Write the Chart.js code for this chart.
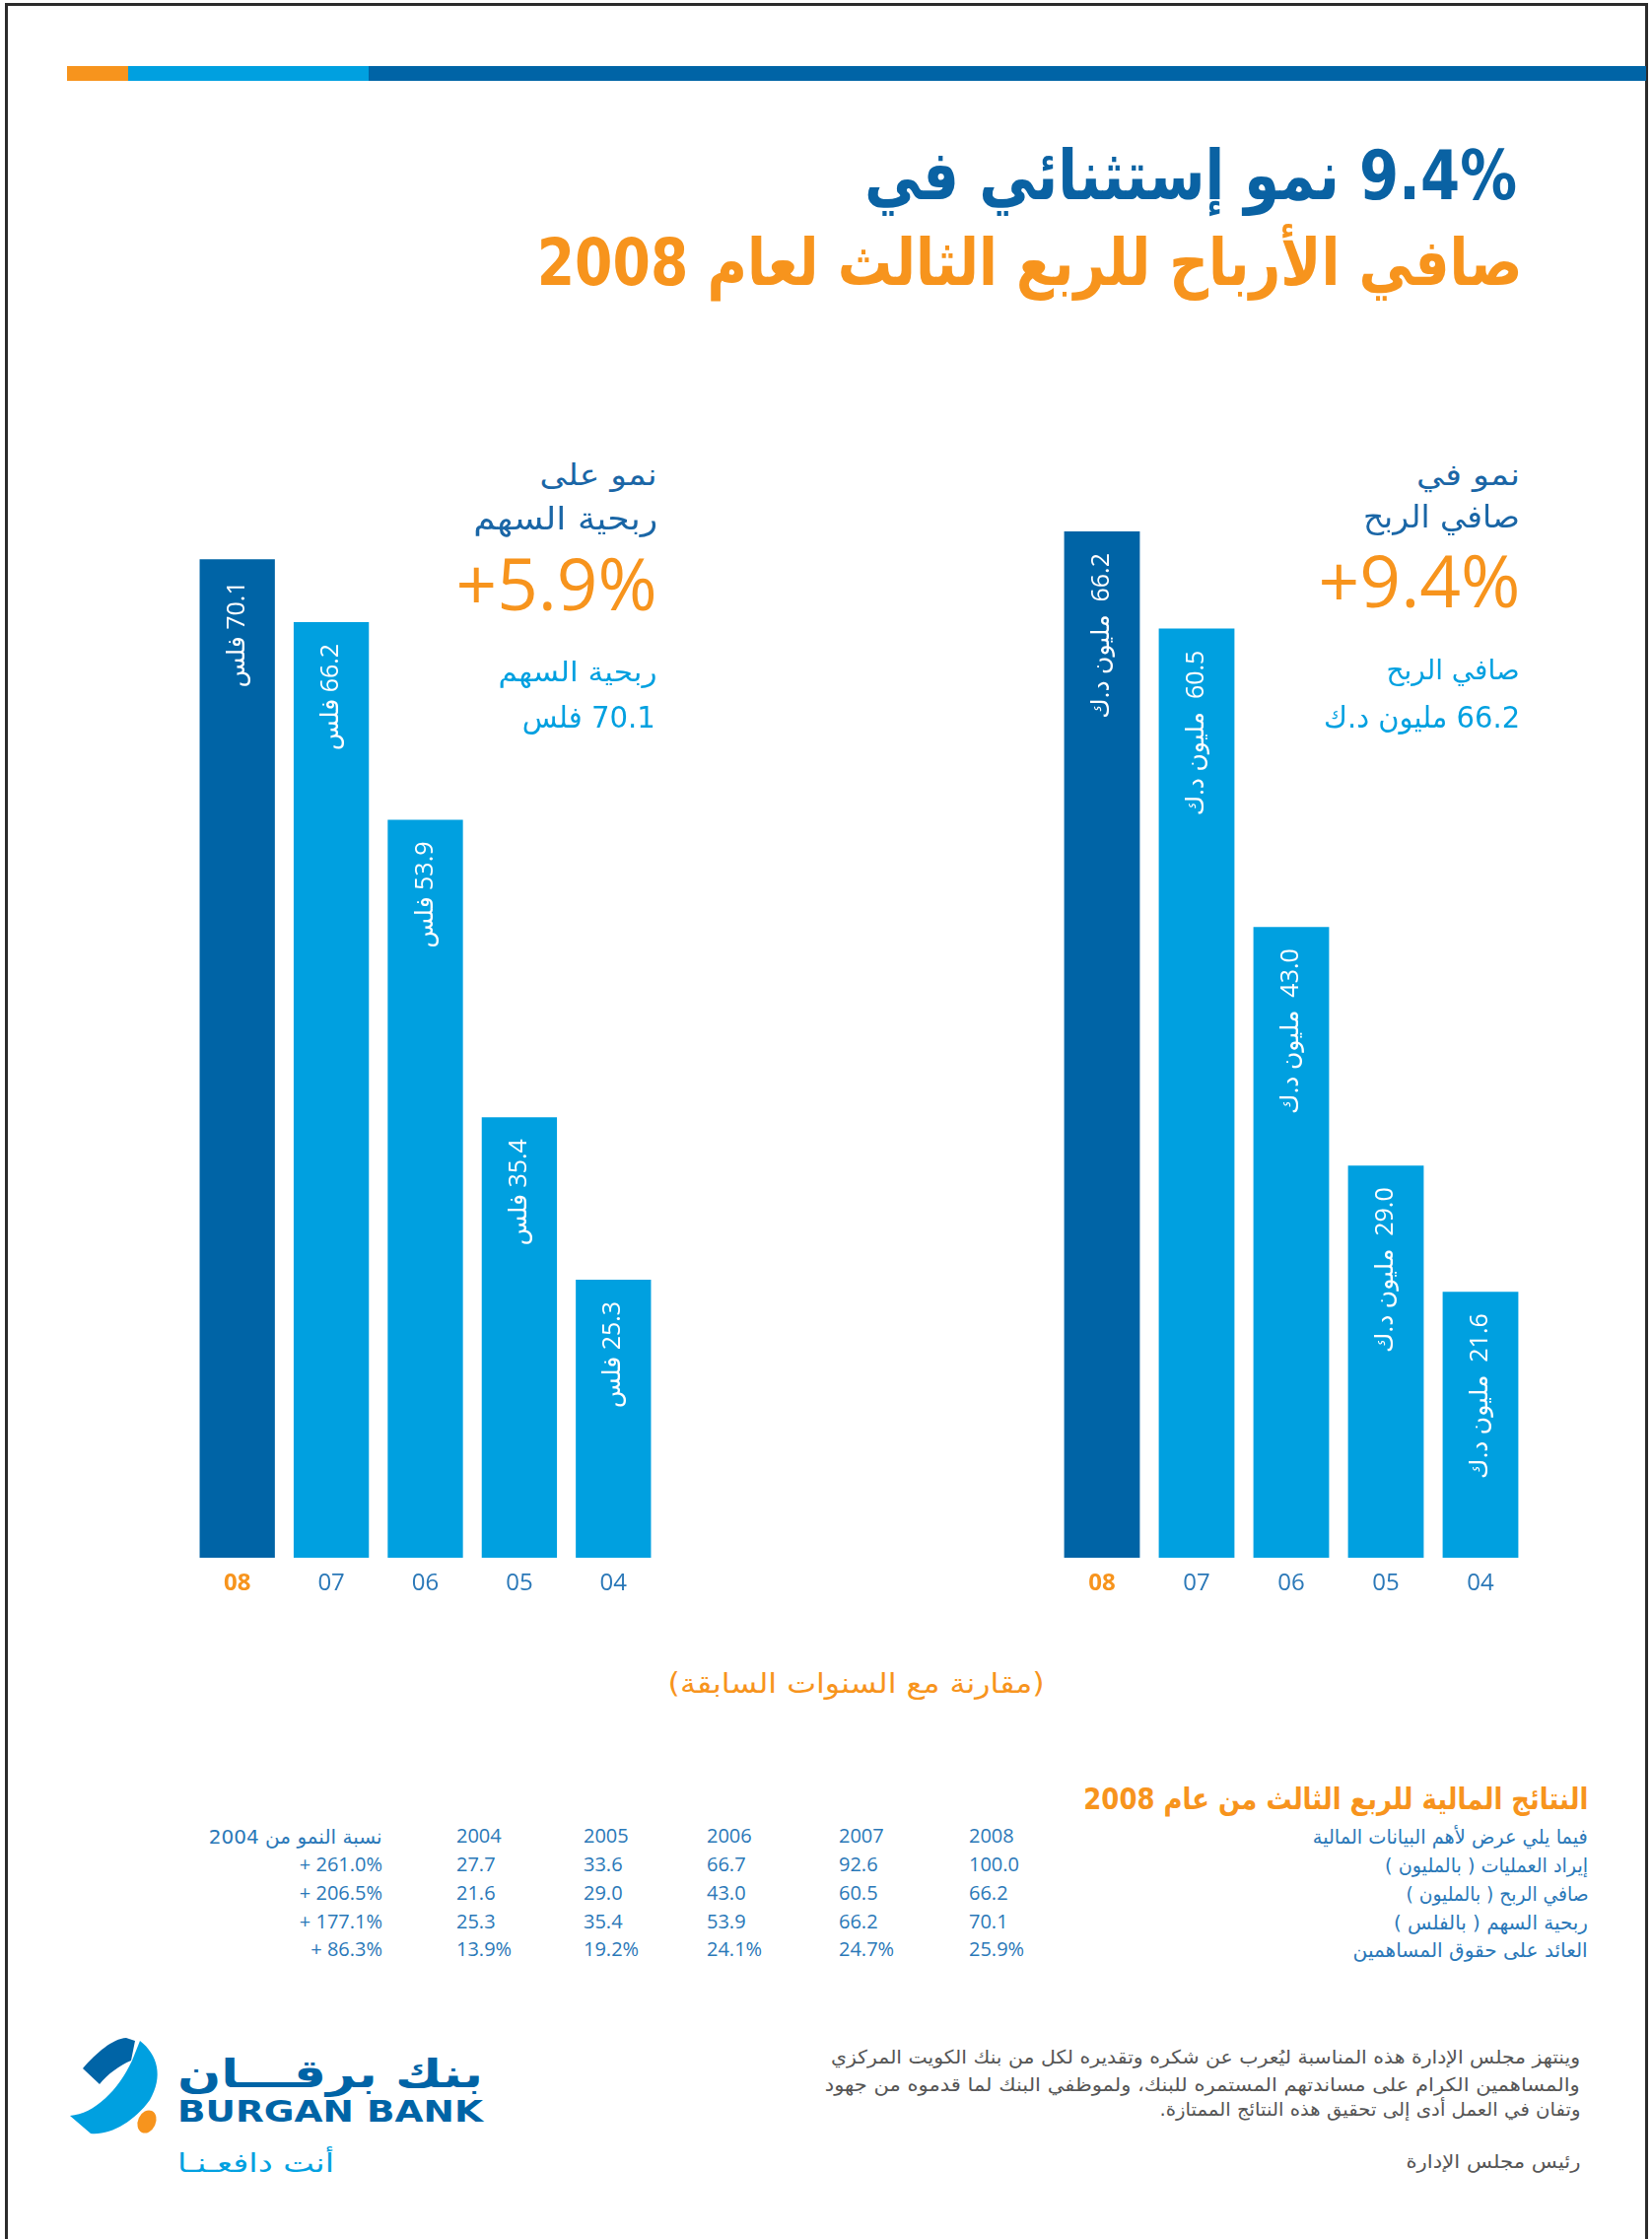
<!DOCTYPE html>
<html lang="ar">
<head>
<meta charset="utf-8">
<title>Burgan Bank Q3 2008</title>
<script src="https://cdn.jsdelivr.net/npm/chart.js"></script>
<style>
html, body { margin: 0; padding: 0; width: 1676px; height: 2271px; overflow: hidden; background: #fff; }
#page { position: relative; width: 1676px; height: 2271px; overflow: hidden; }
.frame { position: absolute; left: 5px; top: 3px; width: 1667px; height: 2400px; border: 3px solid #2b2b2b; border-bottom: none; box-sizing: border-box; }
.stripe { position: absolute; top: 67px; height: 15px; }
.t { position: absolute; white-space: nowrap; line-height: 1; font-family: "DejaVu Sans", sans-serif; }
canvas { position: absolute; }
</style>
</head>
<body>
<div id="page">
  <div class="frame"></div>
  <div class="stripe" style="left:68px;width:62px;background:#f7941d"></div>
  <div class="stripe" style="left:130px;width:244px;background:#00a0e0"></div>
  <div class="stripe" style="left:374px;width:1296px;background:#0064a6"></div>

  <canvas id="chartEps" width="477" height="1120" style="left:193px;top:520px"></canvas>
  <canvas id="chartProfit" width="480" height="1120" style="left:1070px;top:520px"></canvas>

  <svg style="position:absolute;left:0;top:2040px" width="200" height="140">
    <path d="M142,30 C160,44 166,66 152,90 C136,112 112,126 92,124 L71,106 C96,104 120,80 134,50 Z" fill="#00a0e0"/>
    <path d="M84,58 C98,42 114,28 128,27 L137,30 L133,50 C121,55 109,64 101,74 Z" fill="#0064a6"/>
    <ellipse cx="149" cy="112" rx="9" ry="12" transform="rotate(25 149 112)" fill="#f7941d"/>
  </svg>
</div>

<script>
// years shown under the bars (newest first, as in the print)
const years = ["08", "07", "06", "05", "04"];
// earnings per share, fils
const epsValues = [70.1, 66.2, 53.9, 35.4, 25.3];
// net profit, million KD
const profitValues = [66.2, 60.5, 43.0, 29.0, 21.6];

// table of results
const tableYears = ["2008", "2007", "2006", "2005", "2004"];
const revenue = [100.0, 92.6, 66.7, 33.6, 27.7];
const netProfit = [66.2, 60.5, 43.0, 29.0, 21.6];
const eps = [70.1, 66.2, 53.9, 35.4, 25.3];
const roe = [25.9, 24.7, 24.1, 19.2, 13.9];
const growth = ["+ 261.0%", "+ 206.5%", "+ 177.1%", "+ 86.3%"];
const rowLabels = [
    "فيما يلي عرض لأهم البيانات المالية",
    "إيراد العمليات ( بالمليون )",
    "صافي الربح ( بالمليون )",
    "ربحية السهم ( بالفلس )",
    "العائد على حقوق المساهمين",
];

const DARK = "#0064a6";
const LIGHT = "#00a0e0";
const ORANGE = "#f7941d";
const TXT_BLUE = "#2a78b8";
const PAGE_W = 1676;
const page = document.getElementById("page");

function placeText(spec) {
    const el = document.createElement("div");
    el.className = "t";
    el.textContent = spec.s;
    el.dir = spec.dir || "rtl";
    el.style.fontSize = spec.size + "px";
    el.style.fontWeight = spec.b || 400;
    el.style.color = spec.c;
    el.style.top = spec.top + "px";
    if (spec.f) el.style.fontFamily = spec.f;
    if (spec.r !== undefined) {
        el.style.right = PAGE_W - spec.r + "px";
        el.style.transformOrigin = "right top";
    } else {
        el.style.left = spec.l + "px";
        el.style.transformOrigin = "left top";
    }
    page.appendChild(el);
    if (spec.w) {
        const w = el.getBoundingClientRect().width;
        el.style.transform = "scaleX(" + spec.w / w + ")";
    }
    return el;
}

const OPEN = '"Open Sans", "DejaVu Sans", sans-serif';

const texts = [
    // title
    { s: "9.4% نمو إستثنائي في", r: 1539, top: 143, size: 70, b: 700, c: "#0a62a3", w: 662 },
    { s: "صافي الأرباح للربع الثالث لعام 2008", r: 1545, top: 234, size: 66, b: 700, c: ORANGE, w: 1000 },
    // left block
    { s: "نمو على", r: 667, top: 467, size: 30, c: "#1a66a6", w: 119 },
    { s: "ربحية السهم", r: 667, top: 510, size: 32, c: "#1a66a6", w: 187 },
    { s: "+5.9%", r: 667, top: 554, size: 74, c: ORANGE, f: OPEN, dir: "ltr", w: 204 },
    { s: "ربحية السهم", r: 667, top: 668, size: 28, c: LIGHT, w: 161 },
    { s: "70.1 فلس", r: 665, top: 713, size: 30, c: LIGHT, w: 135 },
    // right block
    { s: "نمو في", r: 1542, top: 467, size: 30, c: "#1a66a6", w: 105 },
    { s: "صافي الربح", r: 1542, top: 508, size: 32, c: "#1a66a6", w: 159 },
    { s: "+9.4%", r: 1543, top: 551, size: 74, c: ORANGE, f: OPEN, dir: "ltr", w: 205 },
    { s: "صافي الربح", r: 1542, top: 666, size: 28, c: LIGHT, w: 135 },
    { s: "66.2 مليون د.ك", r: 1542, top: 713, size: 30, c: LIGHT, w: 199 },
    // middle caption
    { s: "(مقارنة مع السنوات السابقة)", r: 1060, top: 1694, size: 28, c: ORANGE, w: 382 },
    // table heading
    { s: "النتائج المالية للربع الثالث من عام 2008", r: 1611, top: 1810, size: 30, b: 700, c: ORANGE, w: 512 },
    { s: "نسبة النمو من 2004", r: 388, top: 1853, size: 20, c: TXT_BLUE, w: 176 },
    // footer
    { s: "وينتهز مجلس الإدارة هذه المناسبة ليُعرب عن شكره وتقديره لكل من بنك الكويت المركزي", r: 1603, top: 2077, size: 19, c: "#555", w: 760 },
    { s: "والمساهمين الكرام على مساندتهم المستمره للبنك، ولموظفي البنك لما قدموه من جهود", r: 1603, top: 2105, size: 19, c: "#555", w: 766 },
    { s: "وتفان في العمل أدى إلى تحقيق هذه النتائج الممتازة.", r: 1603, top: 2130, size: 19, c: "#555", w: 427 },
    { s: "رئيس مجلس الإدارة", r: 1603, top: 2183, size: 19, c: "#555", w: 177 },
    // logo words
    { s: "بنك برقـــان", l: 180, top: 2083, size: 40, b: 700, c: DARK, w: 310 },
    { s: "BURGAN BANK", l: 180, top: 2127, size: 30, b: 700, c: DARK, dir: "ltr", w: 310 },
    { s: "أنت دافعـنـا", l: 180, top: 2181, size: 26, c: LIGHT, w: 159 },
];
texts.forEach(placeText);

// table rows
const labelWidths = [279, 206, 185, 197, 238];
const rowCenters = [1863, 1892, 1921, 1950, 1978];
const colLeft = [983, 851, 717, 592, 463];
const tableRows = [
    tableYears,
    revenue.map((v) => v.toFixed(1)),
    netProfit.map((v) => v.toFixed(1)),
    eps.map((v) => v.toFixed(1)),
    roe.map((v) => v.toFixed(1) + "%"),
];
tableRows.forEach((row, i) => {
    placeText({ s: rowLabels[i], r: 1611, top: rowCenters[i] - 10, size: 20, c: TXT_BLUE, w: labelWidths[i] });
    row.forEach((cell, j) => {
        placeText({ s: cell, l: colLeft[j], top: rowCenters[i] - 11, size: 20, c: TXT_BLUE, f: OPEN, dir: "ltr" });
    });
    if (i > 0) {
        placeText({ s: growth[i - 1], r: 388, top: rowCenters[i] - 11, size: 20, c: TXT_BLUE, f: OPEN, dir: "ltr" });
    }
});

// labels written inside the bars, turned to read upwards
const barText = {
    id: "barText",
    afterDatasetsDraw(chart, args, opts) {
        const ctx = chart.ctx;
        const meta = chart.getDatasetMeta(0);
        meta.data.forEach((bar, i) => {
            const v = chart.data.datasets[0].data[i];
            ctx.save();
            ctx.translate(bar.x, bar.y + 22);
            ctx.rotate(-Math.PI / 2);
            ctx.direction = "rtl";
            ctx.textAlign = "right";
            ctx.textBaseline = "middle";
            ctx.fillStyle = "#fff";
            ctx.font = '25px "Open Sans", "DejaVu Sans", sans-serif';
            ctx.fillText(v.toFixed(1) + opts.gap + opts.unit, 0, 0);
            ctx.restore();
        });
    },
};

function makeChart(id, values, unit, gap, yMin, yMax) {
    const colors = values.map((v, i) => (i === 0 ? DARK : LIGHT));
    return new Chart(document.getElementById(id), {
        type: "bar",
        data: {
            labels: years,
            datasets: [
                {
                    data: values,
                    backgroundColor: colors,
                    barPercentage: 0.8,
                    categoryPercentage: 1.0,
                },
            ],
        },
        options: {
            responsive: false,
            animation: false,
            layout: { padding: 0 },
            plugins: {
                legend: { display: false },
                tooltip: { enabled: false },
                barText: { unit: unit, gap: gap },
            },
            scales: {
                x: {
                    grid: { display: false, drawTicks: false },
                    border: { display: false },
                    ticks: {
                        padding: 12,
                        color: (c) => (c.index === 0 ? ORANGE : TXT_BLUE),
                        font: (c) => ({
                            family: "Open Sans",
                            size: 24,
                            weight: c.index === 0 ? "bold" : "normal",
                        }),
                    },
                    afterFit: (scale) => {
                        scale.height = 60;
                    },
                },
                y: { display: false, min: yMin, max: yMax },
            },
        },
        plugins: [barText],
    });
}

makeChart("chartEps", epsValues, "فلس", " ", 8, 73);
makeChart("chartProfit", profitValues, "مليون د.ك", "  ", 6, 67.3);
</script>
</body>
</html>
